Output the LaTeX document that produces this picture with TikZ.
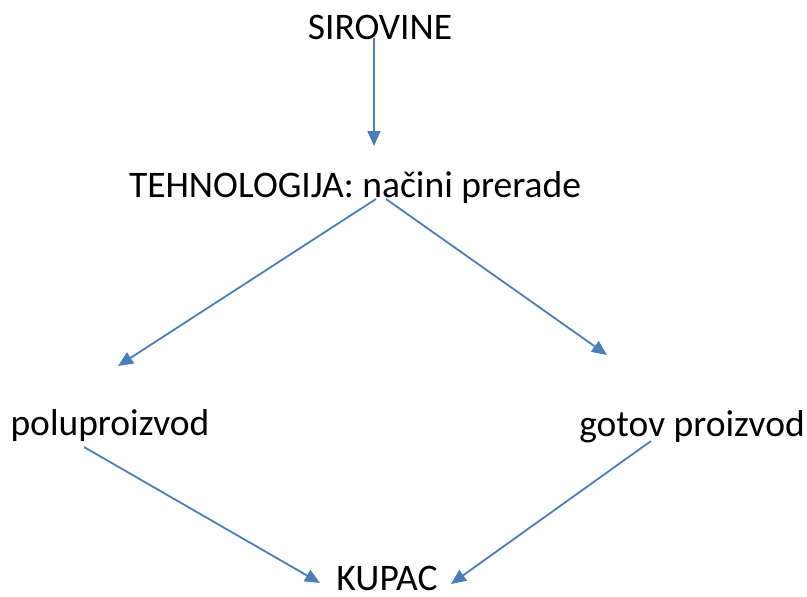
\documentclass[tikz,border=0pt]{standalone}
\usepackage{fontspec}
\setmainfont{Carlito}
\usepackage{xcolor}
\usetikzlibrary{positioning,arrows.meta}
\definecolor{arrowblue}{HTML}{4A7EBB}

\begin{document}
\begin{tikzpicture}[
    x=1pt, y=-1pt,
    every node/.style={font=\fontsize{37.5}{44}\selectfont, inner sep=0pt, anchor=base},
    flow/.style={line width=1.8pt, color=arrowblue, -{Triangle[length=15pt,width=13pt]}}
  ]
  \useasboundingbox (0,0) rectangle (807,597);

  % ---- tekstovi -----------------------------------------------------------
  \node (sir)  at (380,39)  {SIROVINE};
  \node (teh)  at (355,197) {TEHNOLOGIJA: načini prerade};
  \node (polu) at (110,435) {poluproizvod};
  \node (got)  at (692,436) {gotov proizvod};
  \node (kup)  at (387,590) {KUPAC};

  % ---- krajevi strelica ---------------------------------------------------
  \coordinate (sirA) at (374,38);   \coordinate (tehT) at (374,146);
  \coordinate (tehL) at (376,199);  \coordinate (poluT) at (118,366);
  \coordinate (tehR) at (386,199);  \coordinate (gotT) at (607,355);
  \coordinate (poluA) at (84,447);  \coordinate (kupL) at (320,583);
  \coordinate (gotA) at (651,441);  \coordinate (kupR) at (451,584);

  % ---- strelice -----------------------------------------------------------
  \draw[flow] (sirA) -- (tehT);
  \draw[flow] (tehL) -- (poluT);
  \draw[flow] (tehR) -- (gotT);
  \draw[flow] (poluA) -- (kupL);
  \draw[flow] (gotA) -- (kupR);

\end{tikzpicture}
\end{document}
